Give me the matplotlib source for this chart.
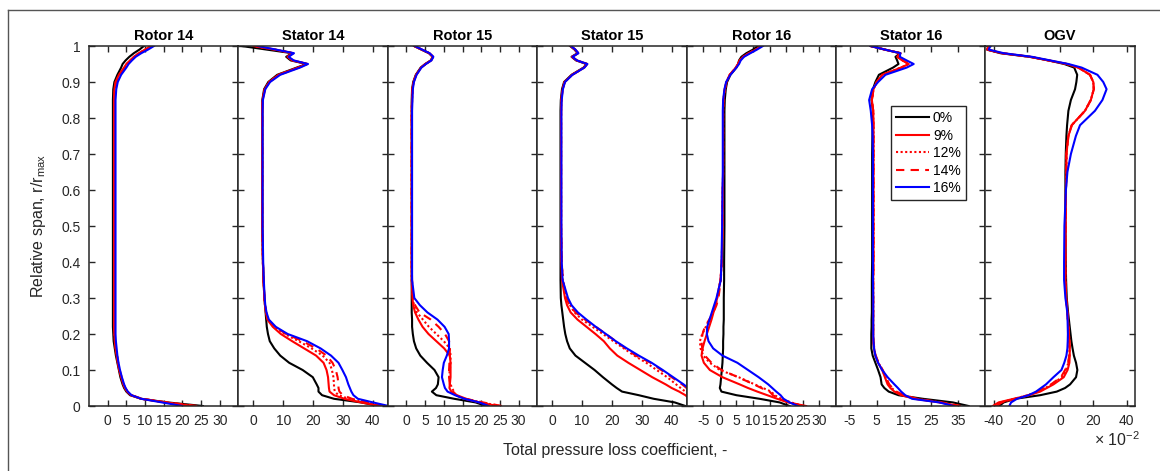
import numpy as np
import matplotlib.pyplot as plt
from matplotlib.lines import Line2D

plt.rcParams['font.family'] = ['Liberation Sans', 'DejaVu Sans']
plt.rcParams['mathtext.default'] = 'regular'
plt.rcParams['axes.unicode_minus'] = False

span = [0.0, 0.01, 0.02, 0.03, 0.04, 0.05, 0.06, 0.08, 0.10,
        0.12, 0.14, 0.16, 0.18, 0.20, 0.22, 0.24, 0.26, 0.28, 0.30,
        0.35, 0.40, 0.50, 0.60, 0.65, 0.70, 0.75, 0.78, 0.82, 0.85,
        0.88, 0.90, 0.92, 0.94, 0.95, 0.96, 0.97, 0.98, 0.99, 1.0]

rows = ['Rotor 14', 'Stator 14', 'Rotor 15', 'Stator 15', 'Rotor 16', 'Stator 16', 'OGV']
cases = ['0%', '9%', '12%', '14%', '16%']

# Rotor 14
r14_0 = [25.5, 16, 9, 6, 5, 4.4, 4, 3.4, 3,
         2.6, 2.2, 1.9, 1.6, 1.5, 1.4, 1.4, 1.4, 1.4, 1.4,
         1.4, 1.4, 1.4, 1.4, 1.4, 1.4, 1.4, 1.4, 1.4, 1.4,
         1.5, 1.8, 2.6, 3.6, 4.0, 4.8, 5.8, 7.0, 8.5, 9.7]
r14_9 = [23, 15.5, 9, 6.2, 5.2, 4.6, 4.2, 3.6, 3.1,
         2.7, 2.4, 2.1, 1.9, 1.8, 1.7, 1.7, 1.7, 1.7, 1.7,
         1.7, 1.7, 1.7, 1.7, 1.7, 1.7, 1.7, 1.7, 1.7, 1.7,
         1.8, 2.1, 3.0, 4.4, 5.0, 6.0, 7.0, 8.3, 10.0, 11.5]
r14_12 = [23.5, 15.5, 9, 6.3, 5.3, 4.7, 4.3, 3.7, 3.2,
          2.8, 2.5, 2.2, 2.0, 1.8, 1.8, 1.7, 1.7, 1.7, 1.7,
          1.7, 1.7, 1.7, 1.7, 1.7, 1.7, 1.7, 1.7, 1.7, 1.7,
          1.9, 2.2, 3.1, 4.5, 5.1, 6.1, 7.1, 8.4, 10.1, 11.6]
r14_14 = [24, 15.8, 9.2, 6.4, 5.3, 4.7, 4.3, 3.7, 3.2,
          2.8, 2.5, 2.2, 2.0, 1.9, 1.8, 1.8, 1.8, 1.8, 1.8,
          1.8, 1.8, 1.8, 1.8, 1.8, 1.8, 1.8, 1.8, 1.8, 1.8,
          1.9, 2.3, 3.2, 4.6, 5.2, 6.2, 7.2, 8.5, 10.2, 11.8]
r14_16 = [20, 14.5, 9, 6.4, 5.4, 4.8, 4.4, 3.8, 3.3,
          2.9, 2.6, 2.4, 2.2, 2.1, 2.1, 2.1, 2.1, 2.1, 2.1,
          2.1, 2.1, 2.1, 2.1, 2.1, 2.1, 2.1, 2.1, 2.1, 2.1,
          2.3, 2.7, 3.6, 5.0, 5.6, 6.5, 7.5, 9.0, 10.8, 12.4]

# Stator 14
s14_0 = [42, 36, 27, 23, 21.8, 21.8, 21.2, 19.9, 16.5,
         12, 9, 7, 5.5, 4.9, 4.5, 4.3, 4.1, 3.9, 3.7,
         3.4, 3.2, 3.0, 3.0, 3.0, 3.0, 3.0, 3.0, 3.0, 3.0,
         3.6, 5.0, 8.0, 14.5, 17.8, 12.5, 11.0, 13.0, 4.5, -4.0]
s14_9 = [42.4, 36, 30.5, 27, 25.5, 25.3, 25.2, 25, 24.5,
         23.5, 21, 17, 13, 9.2, 6.5, 4.7, 4.2, 3.9, 3.7,
         3.4, 3.2, 3.0, 3.0, 3.0, 3.0, 3.0, 3.0, 3.0, 3.1,
         3.8, 5.3, 8.4, 15.0, 18.0, 13.0, 11.4, 13.3, 7.0, 0.0]
s14_12 = [43, 37, 32, 28.5, 27.3, 27, 27, 26.8, 26.3,
          25.5, 23.2, 19.5, 15.2, 10.5, 7, 4.9, 4.3, 3.9, 3.7,
          3.4, 3.2, 3.0, 3.0, 3.0, 3.0, 3.0, 3.0, 3.0, 3.1,
          3.8, 5.3, 8.5, 15.1, 18.0, 13.1, 11.5, 13.3, 7.2, 0.2]
s14_14 = [43.5, 38, 33, 30, 28.8, 28.5, 28.5, 28.2, 27.6,
          26.5, 24.5, 21, 16.5, 11, 7.2, 5, 4.3, 3.9, 3.7,
          3.4, 3.2, 3.0, 3.0, 3.0, 3.0, 3.0, 3.0, 3.0, 3.1,
          3.9, 5.4, 8.6, 15.2, 18.1, 13.2, 11.6, 13.4, 7.3, 0.5]
s14_16 = [45.3, 40, 35, 33.5, 32.8, 32.3, 31.8, 31, 29.8,
          28.5, 26, 22.5, 18, 11.5, 7.5, 5.2, 4.4, 4.0, 3.8,
          3.5, 3.3, 3.1, 3.1, 3.1, 3.1, 3.1, 3.1, 3.1, 3.2,
          4.0, 5.6, 9.0, 15.6, 18.3, 13.5, 11.8, 13.6, 7.6, 1.4]

# Rotor 15
r15_0 = [21.3, 18.5, 12.8, 8.0, 6.8, 7.9, 8.4, 8.6, 7.5,
         5.5, 3.7, 2.6, 2.0, 1.7, 1.5, 1.5, 1.4, 1.4, 1.4,
         1.4, 1.4, 1.4, 1.4, 1.4, 1.4, 1.4, 1.4, 1.4, 1.4,
         1.5, 1.8, 2.5, 3.8, 5.0, 6.5, 7.0, 6.0, 4.0, 2.0]
r15_9 = [24.4, 19.5, 16, 13.5, 12, 11.5, 11.6, 11.8, 11.8,
         11.8, 11.6, 10.1, 8, 5.9, 4.3, 3.2, 2.3, 1.8, 1.6,
         1.4, 1.4, 1.4, 1.4, 1.4, 1.4, 1.4, 1.4, 1.4, 1.5,
         1.6, 1.9, 2.6, 3.9, 5.1, 6.6, 7.1, 6.1, 4.1, 2.1]
r15_12 = [25, 20, 15.5, 13.2, 12.7, 12.2, 11.8, 11.4, 11.6,
          11.8, 11.8, 11.6, 10, 8, 6, 4.4, 2.8, 2.0, 1.7,
          1.4, 1.4, 1.4, 1.4, 1.4, 1.4, 1.4, 1.4, 1.4, 1.5,
          1.6, 1.9, 2.6, 3.9, 5.1, 6.6, 7.1, 6.1, 4.1, 2.1]
r15_14 = [25.5, 20.5, 15.8, 13.3, 12.5, 12, 11.6, 11.4, 11.4,
          11.5, 11.6, 11.6, 11.4, 10.3, 8.6, 6.5, 3.5, 2.3, 1.8,
          1.5, 1.4, 1.4, 1.4, 1.4, 1.4, 1.4, 1.4, 1.4, 1.5,
          1.6, 1.9, 2.6, 3.9, 5.1, 6.6, 7.1, 6.1, 4.1, 2.1]
r15_16 = [22, 19.5, 15.5, 13, 11, 10.3, 10, 9.5, 9.7,
          10.0, 10.8, 11.4, 11.4, 11.3, 10.2, 8.3, 5.6, 3.6, 2.1,
          1.5, 1.5, 1.5, 1.5, 1.5, 1.5, 1.5, 1.5, 1.5, 1.6,
          1.7, 2.0, 2.7, 4.0, 5.2, 6.7, 7.2, 6.2, 4.2, 2.2]

# Stator 15
s15_0 = [44.6, 41, 34, 29, 23.4, 21.6, 20, 17, 14.2,
         11, 7.8, 5.9, 5.0, 4.4, 4.0, 3.7, 3.4, 3.1, 2.9,
         2.8, 2.8, 2.8, 2.8, 2.8, 2.8, 2.8, 2.8, 2.8, 2.9,
         3.3, 4.0, 6.5, 10.5, 11.5, 8.0, 6.5, 8.5, 7.5, 6.0]
s15_9 = [50, 48, 46, 44.6, 42.5, 40, 38, 33.5, 29.5,
         25.5, 21.8, 19.3, 17.3, 14.5, 11.5, 8.5, 6.2, 5.0, 4.3,
         3.3, 3.1, 3.0, 3.0, 3.0, 3.0, 3.0, 3.0, 3.0, 3.1,
         3.5, 4.2, 6.7, 10.7, 11.7, 8.2, 6.7, 8.7, 7.7, 6.2]
s15_12 = [52, 50, 48, 46.5, 44.6, 43, 41.5, 38.5, 35,
          31.5, 27.5, 24, 20.5, 17, 13.5, 10, 7.5, 6, 4.8,
          3.6, 3.2, 3.0, 3.0, 3.0, 3.0, 3.0, 3.0, 3.0, 3.1,
          3.5, 4.2, 6.7, 10.7, 11.7, 8.2, 6.7, 8.7, 7.7, 6.2]
s15_14 = [53, 51.5, 50, 48.5, 47, 45, 43.5, 40, 36.5,
          33, 28, 24.5, 21.3, 18, 14.6, 11, 7.8, 5.8, 4.8,
          3.6, 3.2, 3.0, 3.0, 3.0, 3.0, 3.0, 3.0, 3.0, 3.1,
          3.5, 4.2, 6.7, 10.7, 11.7, 8.2, 6.7, 8.7, 7.7, 6.2]
s15_16 = [54, 52, 50.5, 49, 47.5, 45.5, 44, 40.5, 37,
          33.3, 29, 25, 21.3, 18, 14.6, 11.5, 8.6, 6.5, 5.3,
          3.5, 3.2, 3.1, 3.1, 3.1, 3.1, 3.1, 3.1, 3.1, 3.2,
          3.6, 4.3, 6.8, 10.8, 11.8, 8.3, 6.8, 8.8, 7.8, 6.3]

# Rotor 16
r16_0 = [21, 18, 12, 5, 0.5, 0, 0.2, 0.4, 0.6,
         0.8, 0.9, 1.0, 1.0, 1.1, 1.1, 1.2, 1.2, 1.2, 1.2,
         1.3, 1.3, 1.4, 1.4, 1.4, 1.4, 1.4, 1.4, 1.4, 1.5,
         1.8, 2.2, 3.2, 5.0, 5.5, 5.8, 6.5, 8.0, 10.0, 11.5]
r16_9 = [26, 20.5, 17.3, 14.3, 11.3, 8.5, 6, 0.8, -3,
         -4.8, -5.5, -5.2, -4.6, -3.9, -3.2, -2.5, -1.9, -1.3, -0.8,
         0.2, 0.6, 0.8, 0.9, 1.0, 1.0, 1.0, 1.0, 1.0, 1.1,
         1.5, 2.0, 3.0, 4.8, 5.5, 6.0, 7.0, 8.8, 10.8, 12.5]
r16_12 = [25, 21.5, 18.5, 16.5, 15.5, 13, 10.5, 5.7, 0,
          -3, -5, -5.8, -6, -5.3, -4.2, -3, -2, -1.3, -0.8,
          0.2, 0.6, 0.8, 0.9, 1.0, 1.0, 1.0, 1.0, 1.0, 1.1,
          1.5, 2.0, 3.0, 4.8, 5.5, 6.0, 7.0, 8.8, 10.8, 12.5]
r16_14 = [25, 21, 18, 16, 15, 12.5, 10.3, 5.5, 0.5,
          -2.5, -4.5, -5.3, -5.5, -5.2, -4.5, -3.2, -1.9, -1.0, -0.4,
          0.3, 0.6, 0.8, 0.9, 1.0, 1.0, 1.0, 1.0, 1.0, 1.1,
          1.5, 2.0, 3.0, 4.8, 5.5, 6.0, 7.0, 8.8, 10.8, 12.5]
r16_16 = [23.5, 21, 19.2, 18.3, 17, 15.8, 14.6, 11.7, 8.5,
          5.3, 0.8, -2, -3.4, -3.9, -3.8, -3.1, -2.4, -1.7, -1,
          0.3, 0.5, 0.7, 0.8, 0.9, 0.9, 0.9, 0.9, 0.9, 1.0,
          1.4, 1.9, 3.2, 5.0, 5.8, 6.3, 7.3, 9.2, 11.2, 13.0]

# Stator 16
s16_0 = [38.8, 33, 22, 13, 9.4, 7.8, 6.8, 6.4, 5.5,
         4.5, 3.5, 3.0, 3.0, 3.0, 3.1, 3.1, 3.2, 3.2, 3.2,
         3.2, 3.3, 3.3, 3.3, 3.3, 3.3, 3.4, 3.5, 3.6, 3.1,
         3.6, 4.5, 5.8, 11, 13, 12.5, 11.9, 13.7, 8, 2.7]
s16_9 = [35.1, 28, 19, 14, 11.5, 10, 9, 8, 7,
         5.5, 4.5, 4.0, 3.8, 3.7, 3.7, 3.7, 3.7, 3.7, 3.7,
         3.7, 3.8, 3.8, 3.8, 3.8, 3.8, 3.8, 3.8, 3.7, 3.2,
         3.8, 5.0, 7.0, 14, 16.8, 14.5, 12.5, 13.7, 8, 2.7]
s16_12 = [35.5, 28.5, 19.5, 14.5, 12, 10.5, 9.3, 8.2, 7.1,
          5.6, 4.6, 4.0, 3.8, 3.7, 3.7, 3.7, 3.7, 3.7, 3.7,
          3.7, 3.8, 3.8, 3.8, 3.8, 3.8, 3.8, 3.8, 3.7, 3.2,
          3.8, 5.0, 7.0, 14, 16.8, 14.5, 12.5, 13.7, 8, 2.7]
s16_14 = [36, 29, 20, 15, 12.3, 10.8, 9.6, 8.4, 7.2,
          5.7, 4.6, 4.1, 3.8, 3.7, 3.7, 3.7, 3.7, 3.7, 3.7,
          3.7, 3.8, 3.8, 3.8, 3.8, 3.8, 3.8, 3.8, 3.7, 3.2,
          3.8, 5.0, 7.0, 14, 16.8, 14.5, 12.5, 13.7, 8, 2.7]
s16_16 = [33.3, 28, 18, 15.5, 14, 12.8, 11.5, 9, 7,
          5.5, 4.5, 4.0, 3.8, 3.7, 3.7, 3.7, 3.7, 3.7, 3.7,
          3.6, 3.6, 3.6, 3.6, 3.6, 3.6, 3.5, 3.3, 2.8, 2.2,
          3.3, 5.5, 8.2, 16, 18.6, 16, 13.5, 13.7, 8, 2.7]

# OGV
ogv_0 = [-36.6, -34, -27, -12, -2, 3, 6, 9.6, 10.4,
         9.6, 8.3, 7.5, 6.8, 6.3, 5.8, 5.3, 4.8, 4.4, 4.0,
         3.6, 3.4, 3.2, 3.2, 3.2, 3.4, 3.8, 4.2, 5.0, 6.5,
         9.0, 9.8, 10.3, 8.5, 2.5, -7, -18.6, -36, -44, -43]
ogv_9 = [-40.6, -37, -28, -18.6, -12, -8, -4, 2.2, 4.5,
         5.6, 5.8, 5.8, 5.6, 5.3, 5.0, 4.7, 4.4, 4.0, 3.6,
         3.2, 3.2, 3.3, 3.5, 3.8, 3.8, 5.0, 7.0, 15.0, 18.5,
         20.3, 20.0, 18.0, 11.0, 4.0, -7, -18, -35, -44, -43]
ogv_12 = [-39.5, -36, -27.5, -19.5, -13, -9, -5, 1.0, 3.5,
          5.0, 5.6, 5.7, 5.6, 5.3, 5.0, 4.7, 4.4, 4.0, 3.6,
          3.2, 3.2, 3.3, 3.5, 3.8, 3.8, 5.0, 7.0, 15.0, 18.5,
          20.3, 20.0, 18.0, 11.0, 4.0, -7, -18, -35, -44, -43]
ogv_14 = [-38.5, -35, -27, -19, -13.5, -9.5, -5.5, 0.5, 3.0,
          4.8, 5.5, 5.7, 5.6, 5.3, 5.0, 4.7, 4.4, 4.0, 3.6,
          3.2, 3.2, 3.3, 3.5, 3.8, 3.8, 5.0, 7.0, 15.0, 18.5,
          20.3, 20.0, 18.0, 11.0, 4.0, -7, -18, -35, -44, -43]
ogv_16 = [-30.6, -29.5, -26, -19, -14.5, -11.5, -8.5, -4, 0.8,
          2.5, 3.8, 4.4, 4.6, 4.7, 4.6, 4.5, 4.3, 3.8, 3.2,
          2.4, 2.4, 2.6, 3.5, 4.4, 6.5, 9.5, 12, 21, 25.5,
          28, 26, 22.5, 13, 5, -6, -17, -34, -43, -42]

profiles = {
    'Rotor 14': [r14_0, r14_9, r14_12, r14_14, r14_16],
    'Stator 14': [s14_0, s14_9, s14_12, s14_14, s14_16],
    'Rotor 15': [r15_0, r15_9, r15_12, r15_14, r15_16],
    'Stator 15': [s15_0, s15_9, s15_12, s15_14, s15_16],
    'Rotor 16': [r16_0, r16_9, r16_12, r16_14, r16_16],
    'Stator 16': [s16_0, s16_9, s16_12, s16_14, s16_16],
    'OGV': [ogv_0, ogv_9, ogv_12, ogv_14, ogv_16],
}

xlims = [(-5, 35), (-5, 45), (-5, 35), (-5, 45), (-10, 35), (-10, 45), (-45, 45)]
xticks = [np.arange(0, 31, 5), np.arange(0, 41, 10), np.arange(0, 31, 5),
          np.arange(0, 41, 10), np.arange(-5, 31, 5), np.arange(-5, 36, 10),
          np.arange(-40, 41, 20)]

styles = [dict(color='black', ls='-'),
          dict(color='red', ls='-'),
          dict(color='red', ls=(0, (1, 1.2))),
          dict(color='red', ls=(0, (4, 3))),
          dict(color='blue', ls='-')]

W, H = 1160, 471
fig = plt.figure(figsize=(W / 100, H / 100), dpi=100)

x0, ax_w = 89, 149.4
y_top, y_bot = 46, 406

axes = []
for i, name in enumerate(rows):
    ax = fig.add_axes([(x0 + i * ax_w) / W, (H - y_bot) / H, ax_w / W, (y_bot - y_top) / H])
    for vals, st in zip(profiles[name], styles):
        ax.plot(vals, span, lw=1.5, **st)
    ax.set_xlim(*xlims[i])
    ax.set_ylim(0, 1)
    ax.set_xticks(xticks[i])
    ax.set_yticks(np.arange(0, 1.01, 0.1))
    ax.tick_params(direction='in', top=True, right=True, length=4, width=1,
                   labelsize=10, colors='#262626', pad=6)
    if i == 0:
        ax.set_yticklabels(['0', '0.1', '0.2', '0.3', '0.4', '0.5', '0.6', '0.7', '0.8', '0.9', '1'])
    else:
        ax.set_yticklabels([])
    for sp in ax.spines.values():
        sp.set_linewidth(1.1)
        sp.set_color('#262626')
    ax.set_title(name, fontsize=10.5, fontweight='bold', pad=4)
    axes.append(ax)

handles = [Line2D([], [], lw=1.5, **st) for st in styles]
leg = axes[5].legend(handles, cases, loc='upper left', bbox_to_anchor=(0.37, 0.832),
                     borderaxespad=0, fontsize=10, handlelength=2.4, handletextpad=0.25,
                     labelspacing=0.25, borderpad=0.35, fancybox=False, framealpha=1)
leg.get_frame().set_edgecolor('#262626')
leg.get_frame().set_linewidth(1.0)

fig.text(38 / W, 1 - 226 / H, 'Relative span, r/r$_{max}$', rotation=90,
         ha='center', va='center', fontsize=11.5, color='#262626')
fig.text(615 / W, 1 - 451 / H, 'Total pressure loss coefficient, -',
         ha='center', va='center', fontsize=11.5, color='#262626')
fig.text(1094 / W, 1 - 440 / H, r'$\times$ 10$^{-2}$', ha='left', va='center',
         fontsize=11.5, color='#262626')

# thin frame around the figure panel
fig.add_artist(Line2D([8 / W, 1], [1 - 10 / H, 1 - 10 / H], transform=fig.transFigure,
                      color='#555555', lw=1))
fig.add_artist(Line2D([8 / W, 8 / W], [0, 1 - 10 / H], transform=fig.transFigure,
                      color='#555555', lw=1))

fig.savefig('out.png', dpi=100)
